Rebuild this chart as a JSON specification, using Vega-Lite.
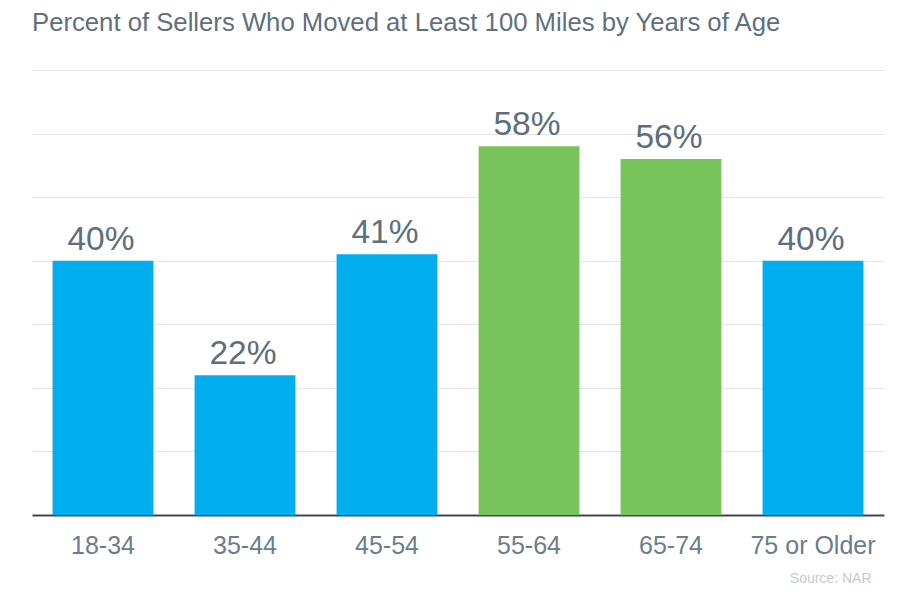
{
  "$schema": "https://vega.github.io/schema/vega-lite/v6.json",
  "width": 852,
  "height": 445,
  "autosize": {"type": "none"},
  "padding": {"left": 32, "top": 70, "right": 32, "bottom": 96},
  "background": "white",
  "title": {
    "text": "Percent of Sellers Who Moved at Least 100 Miles by Years of Age",
    "anchor": "start",
    "frame": "group",
    "font": "Liberation Sans",
    "fontSize": 25.7,
    "fontWeight": "normal",
    "color": "#5f707c",
    "offset": 33
  },
  "data": {
    "values": [
      {"age": "18-34", "pct": 0.40, "group": "a"},
      {"age": "35-44", "pct": 0.22, "group": "a"},
      {"age": "45-54", "pct": 0.41, "group": "a"},
      {"age": "55-64", "pct": 0.58, "group": "b"},
      {"age": "65-74", "pct": 0.56, "group": "b"},
      {"age": "75 or Older", "pct": 0.40, "group": "a"}
    ]
  },
  "encoding": {
    "x": {
      "field": "age",
      "type": "nominal",
      "sort": null,
      "scale": {"paddingInner": 0.29, "paddingOuter": 0.145},
      "axis": {
        "title": "Source: NAR",
        "titleFont": "Liberation Sans",
        "titleFontSize": 14,
        "titleFontWeight": "normal",
        "titleColor": "#c3cbd0",
        "titleAnchor": "end",
        "titleAlign": "right",
        "titleX": 839,
        "titleY": 56,
        "labelAngle": 0,
        "labelFont": "Liberation Sans",
        "labelFontSize": 25,
        "labelColor": "#6b7d8c",
        "labelPadding": 18,
        "ticks": false,
        "domainColor": "#3d4852",
        "domainWidth": 2,
        "grid": false
      }
    },
    "y": {
      "field": "pct",
      "type": "quantitative",
      "scale": {"domain": [0, 0.7]},
      "axis": {
        "title": null,
        "labels": false,
        "ticks": false,
        "domain": false,
        "values": [0, 0.1, 0.2, 0.3, 0.4, 0.5, 0.6, 0.7],
        "grid": true,
        "gridColor": "#e6e6e6",
        "gridWidth": 1
      }
    }
  },
  "layer": [
    {
      "mark": {"type": "bar"},
      "encoding": {
        "color": {
          "field": "group",
          "type": "nominal",
          "scale": {"domain": ["a", "b"], "range": ["#00adee", "#77c45a"]},
          "legend": null
        }
      }
    },
    {
      "mark": {
        "type": "text",
        "baseline": "alphabetic",
        "dy": -11,
        "dx": -2,
        "font": "Liberation Sans",
        "fontSize": 33.5,
        "color": "#5d6e7c"
      },
      "encoding": {
        "text": {"field": "pct", "type": "quantitative", "format": ".0%"},
        "detail": {"field": "age"}
      }
    }
  ],
  "config": {"view": {"stroke": null}}
}
